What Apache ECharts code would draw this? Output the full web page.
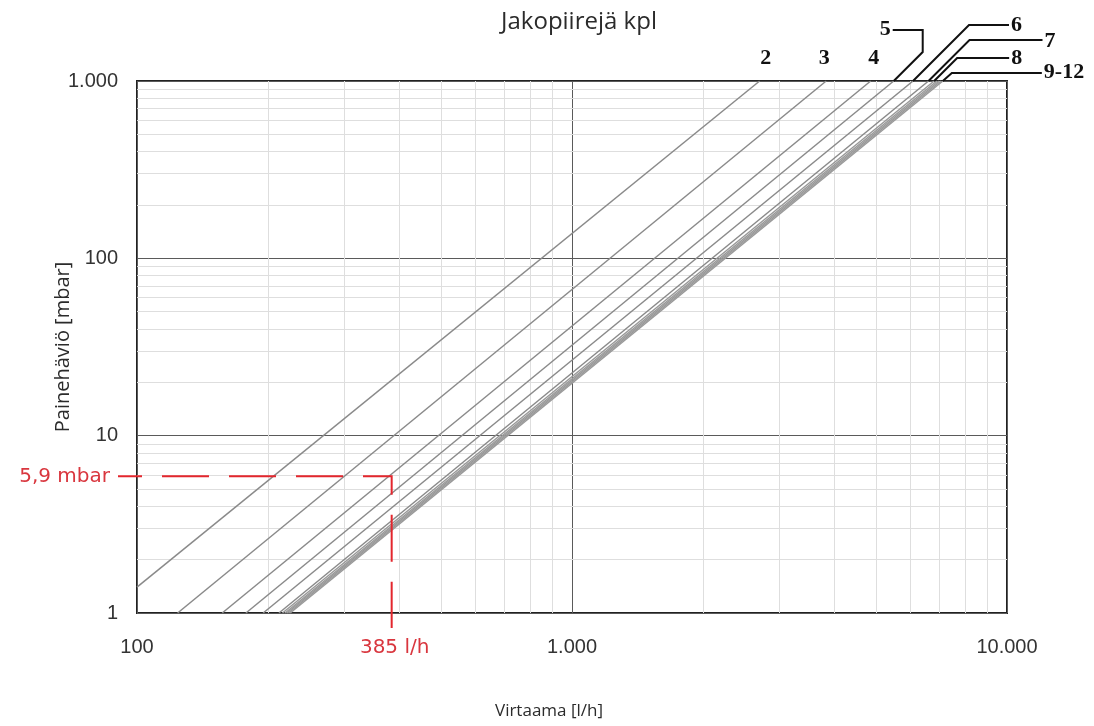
<!DOCTYPE html>
<html><head><meta charset="utf-8">
<script src="https://cdn.jsdelivr.net/npm/echarts@6/dist/echarts.min.js"></script>
<style>html,body{margin:0;padding:0;background:#fff}#c{width:1094px;height:726px}</style>
</head><body><div id="c"></div>
<script>
// ---- data ----
const curveNames = ['2','3','4','5','6','7','8','9','10','11','12'];
const startFlow  = [100, 124, 157, 178, 195, 212, 216, 219, 221, 223, 225];
const startLoss  = [1.4, 1, 1, 1, 1, 1, 1, 1, 1, 1, 1];
const endFlow    = [2700, 3840, 4860, 5490, 6080, 6600, 6800, 6900, 6980, 7050, 7120];
const endLoss    = [1000, 1000, 1000, 1000, 1000, 1000, 1000, 1000, 1000, 1000, 1000];
const xMinorGrid = [200,300,400,500,600,700,800,900,2000,3000,4000,5000,6000,7000,8000,9000];
const yMinorGrid = [2,3,4,5,6,7,8,9,20,30,40,50,60,70,80,90,200,300,400,500,600,700,800,900];
const markFlow = 385;
const markLoss = 5.9;
const markFlowText = '385 l/h';
const markLossText = '5,9 mbar';
const tagTexts = ['2','3','4','5','6','7','8','9-12'];
const tagCurve = [0, 1, 2, 3, 4, 5, 6, 10];

// ---- layout / style (not data) ----
const tagLayout = [
  {path: [], tx: 6, ty: -23, align: 'center'},
  {path: [], tx: -2, ty: -23, align: 'center'},
  {path: [], tx: 3, ty: -23, align: 'center'},
  {path: [[0,0],[29,-29],[29,-51],[-1,-51]], tx: -3, ty: -52, align: 'right'},
  {path: [[0,0],[56,-56],[96,-56]], tx: 98, ty: -56, align: 'left'},
  {path: [[0,0],[41,-41],[114,-41]], tx: 116, ty: -40, align: 'left'},
  {path: [[0,0],[23,-23],[75,-23]], tx: 77, ty: -23, align: 'left'},
  {path: [[0,0],[9,-8],[99,-8]], tx: 101, ty: -9, align: 'left'}
];

function fmt(v){ return String(Math.round(v)).replace(/\B(?=(\d{3})+(?!\d))/g,'.'); }

const chart = echarts.init(document.getElementById('c'), null, {renderer:'canvas'});
const series = curveNames.map((n,i)=>({
  name: n, type: 'line', symbol: 'none', silent: true, z: 8,
  data: [[startFlow[i], startLoss[i]], [endFlow[i], endLoss[i]]],
  lineStyle: {color: i >= 6 ? '#999999' : '#8a8a8a', width: 1.5},
  emphasis: {disabled: true}
}));
series.push({
  type: 'line', symbol: 'none', silent: true, z: 1,
  data: [[100,1]], lineStyle: {opacity: 0},
  markLine: {
    z: 1,
    symbol: 'none', silent: true, animation: false,
    label: {show: false},
    lineStyle: {color: '#dedede', width: 1, type: 'solid'},
    data: xMinorGrid.map(v=>({xAxis: v})).concat(yMinorGrid.map(v=>({yAxis: v})))
  }
});

const option = {
  animation: false,
  backgroundColor: '#fff',
  title: {
    text: 'Jakopiirejä kpl', left: 574, textAlign: 'center', top: 5,
    textStyle: {fontFamily: 'Open Sans', fontSize: 24, fontWeight: 'normal', color: '#2b2b2b'}
  },
  grid: {left: 137, right: 87, top: 81, bottom: 113, show: true, borderColor: '#222', borderWidth: 2, containLabel: false},
  xAxis: {
    type: 'log', logBase: 10, min: 100, max: 10000,
    name: 'Virtaama [l/h]', nameLocation: 'middle', nameGap: 90, nameMoveOverlap: false,
    nameTextStyle: {fontFamily: 'Open Sans', fontSize: 17, color: '#2b2b2b', padding: [0, 46, 0, 0]},
    axisLine: {show: false}, axisTick: {show: false},
    axisLabel: {formatter: fmt, fontFamily: 'Liberation Sans', fontSize: 20, color: '#333', margin: 24, showMinLabel: true, showMaxLabel: true},
    splitLine: {show: true, lineStyle: {color: '#5a5a5a', width: 1}},
    minorSplitLine: {show: false}
  },
  yAxis: {
    type: 'log', logBase: 10, min: 1, max: 1000,
    name: 'Painehäviö [mbar]', nameLocation: 'middle', nameGap: 64, nameMoveOverlap: false,
    nameTextStyle: {fontFamily: 'Open Sans', fontSize: 20, color: '#2b2b2b'},
    axisLine: {show: false}, axisTick: {show: false},
    axisLabel: {formatter: fmt, fontFamily: 'Liberation Sans', fontSize: 20, color: '#333', margin: 19, showMinLabel: true, showMaxLabel: true},
    splitLine: {show: true, lineStyle: {color: '#5a5a5a', width: 1}}
  },
  series: series
};
chart.setOption(option);

// ---- annotations positioned through the chart's own scales ----
const P = (f,l)=>chart.convertToPixel({gridIndex:0}, [f,l]);
const graphics = [];
tagTexts.forEach((t,k)=>{
  const ci = tagCurve[k];
  const e = P(endFlow[ci], endLoss[ci]);
  const L = tagLayout[k];
  if (L.path.length) {
    graphics.push({type:'polyline', silent:true, z: 10,
      shape:{points: L.path.map(p=>[e[0]+p[0], e[1]+p[1]])},
      style:{stroke:'#111', lineWidth: 2, fill: null}});
  }
  graphics.push({type:'text', silent:true, z: 10, x: e[0]+L.tx, y: e[1]+L.ty,
    style:{text: t, fill:'#111', font: 'bold 22px "Liberation Serif"', align: L.align, verticalAlign:'middle'}});
});
const corner = P(markFlow, markLoss);
const orig = P(100, 1);
graphics.push({type:'polyline', silent:true, z: 12,
  shape:{points: [[orig[0]-19, corner[1]], [corner[0], corner[1]], [corner[0], orig[1]+15]]},
  style:{stroke:'#e3262d', lineWidth: 2, fill: null, lineDash: [47, 20], lineDashOffset: 23}});
graphics.push({type:'text', silent:true, z: 12, x: orig[0]-27, y: corner[1],
  style:{text: markLossText, fill:'#d9363e', font: '20px "DejaVu Sans"', align:'right', verticalAlign:'middle'}});
graphics.push({type:'text', silent:true, z: 12, x: corner[0]+3, y: orig[1]+35,
  style:{text: markFlowText, fill:'#d9363e', font: '20px "DejaVu Sans"', align:'center', verticalAlign:'middle'}});
chart.setOption({graphic: graphics});
</script></body></html>
